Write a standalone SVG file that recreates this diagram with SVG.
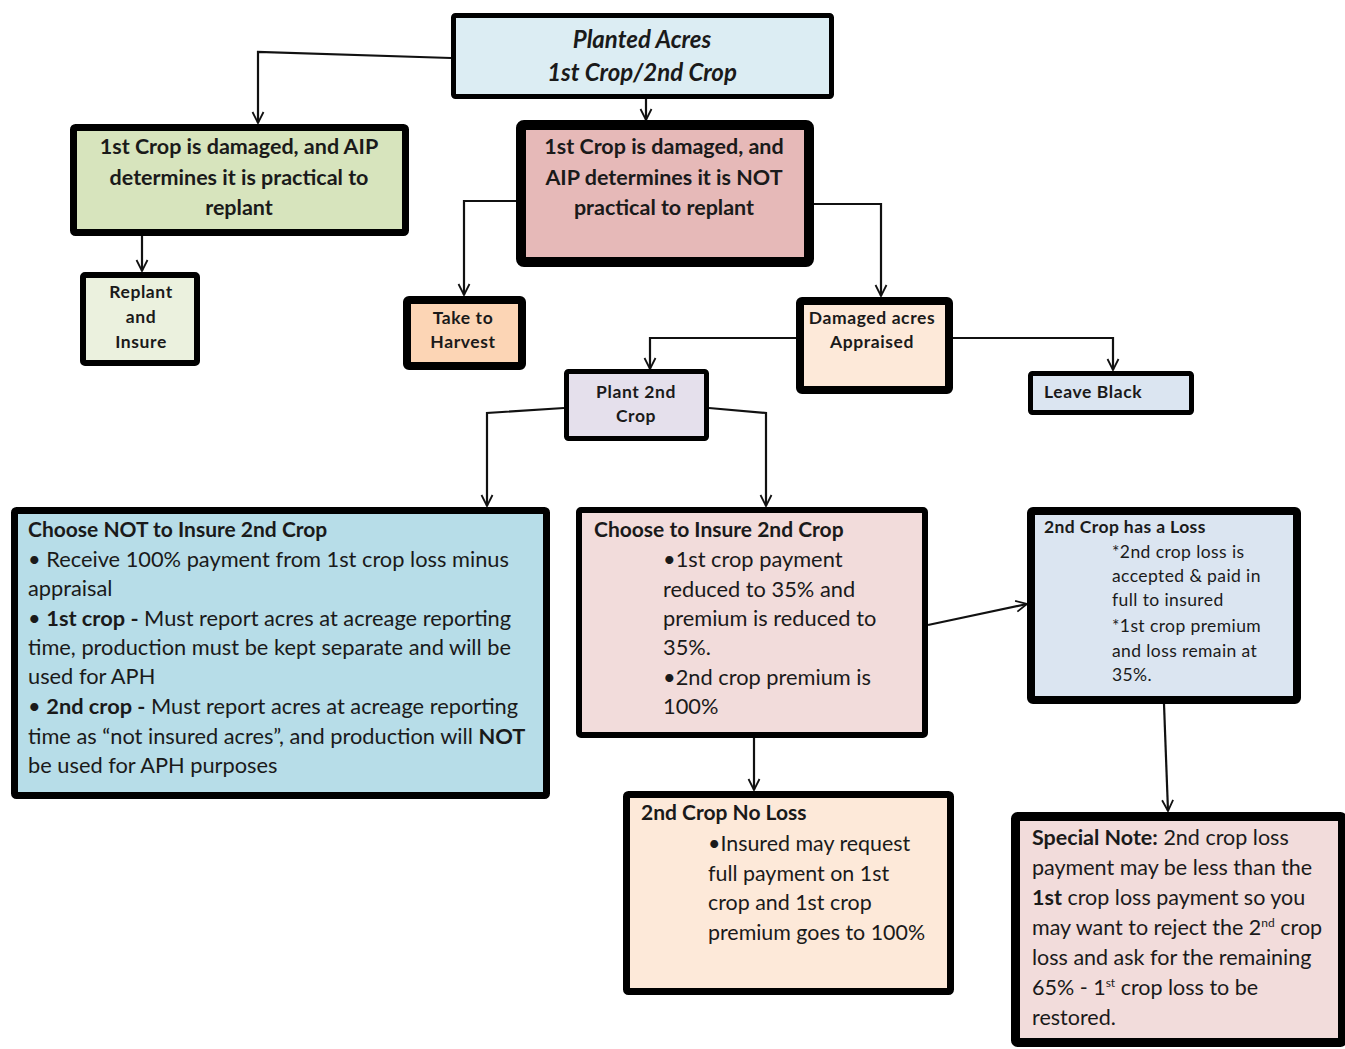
<svg xmlns="http://www.w3.org/2000/svg" width="1345" height="1049" viewBox="0 0 1345 1049">
<style>
.box{stroke:#000;stroke-linejoin:round}
.t{font-family:Lato,"Open Sans","Liberation Sans",sans-serif;fill:#1a1a1a}
.b{font-weight:700}
.c{text-anchor:middle}
.s{font-size:17.5px;letter-spacing:0.6px;font-weight:700}
.con{fill:none;stroke:#111;stroke-width:2.2;marker-end:url(#arr)}
</style>
<defs>
<marker id="arr" viewBox="0 0 14 14" refX="13" refY="7" markerWidth="14" markerHeight="14" markerUnits="userSpaceOnUse" orient="auto">
<path d="M2,1.5 L13,7 L2,12.5" fill="none" stroke="#111" stroke-width="1.8"/>
</marker>
</defs>
<rect width="1345" height="1049" fill="#fff"/>
<g id="connectors">
<path class="con" d="M451,58 L258,52 L258,123"/>
<path class="con" d="M646,99 L646,120"/>
<path class="con" d="M142,236 L142,271"/>
<path class="con" d="M516,201 L464,201 L464,295"/>
<path class="con" d="M814,204 L881,204 L881,296"/>
<path class="con" d="M796,338 L650,338 L650,369"/>
<path class="con" d="M953,338 L1113,338 L1113,370"/>
<path class="con" d="M564,408 L487,413 L487,506"/>
<path class="con" d="M709,408 L766,413 L766,506"/>
<path class="con" d="M928,625 L1027,604"/>
<path class="con" d="M754,738 L754,790"/>
<path class="con" d="M1164,704 L1168,811"/>
</g>
<g id="planted">
<rect class="box" x="453.5" y="15.5" width="378" height="81" rx="2" fill="#dcedf3" stroke-width="5"/>
<text class="t b c" x="642" y="48" font-size="24" font-style="italic">Planted Acres</text>
<text class="t b c" x="642" y="81" font-size="24" font-style="italic">1st Crop/2nd Crop</text>
</g>
<g id="practical">
<rect class="box" x="73.5" y="127.5" width="332" height="105" rx="2" fill="#d7e4bd" stroke-width="7"/>
<text class="t b c" x="239" y="154" font-size="21.5">1st Crop is damaged, and AIP</text>
<text class="t b c" x="239" y="185" font-size="21.5">determines it is practical to</text>
<text class="t b c" x="239" y="215" font-size="21.5">replant</text>
</g>
<g id="notpractical">
<rect class="box" x="521" y="125" width="288" height="137" rx="3" fill="#e6b9b8" stroke-width="10"/>
<text class="t b c" x="664" y="154" font-size="21.5">1st Crop is damaged, and</text>
<text class="t b c" x="664" y="185" font-size="21.5">AIP determines it is NOT</text>
<text class="t b c" x="664" y="215" font-size="21.5">practical to replant</text>
</g>
<g id="replant">
<rect class="box" x="83" y="275" width="114" height="88" rx="2" fill="#ebf1de" stroke-width="6"/>
<text class="t s c" x="141" y="298">Replant</text>
<text class="t s c" x="141" y="323">and</text>
<text class="t s c" x="141" y="348">Insure</text>
</g>
<g id="harvest">
<rect class="box" x="407" y="300" width="115" height="66" rx="2" fill="#fcd5b5" stroke-width="8"/>
<text class="t s c" x="463" y="324">Take to</text>
<text class="t s c" x="463" y="348">Harvest</text>
</g>
<g id="appraised">
<rect class="box" x="800" y="301" width="149" height="89" rx="2" fill="#fde9d9" stroke-width="8"/>
<text class="t s c" x="872" y="324" letter-spacing="0">Damaged acres</text>
<text class="t s c" x="872" y="348">Appraised</text>
</g>
<g id="leaveblack">
<rect class="box" x="1030.5" y="373.5" width="161" height="39" rx="2" fill="#dbe5f1" stroke-width="5"/>
<text class="t s" x="1044" y="398">Leave Black</text>
</g>
<g id="plant2nd">
<rect class="box" x="566.5" y="371.5" width="140" height="67" rx="2" fill="#e5e0ec" stroke-width="5"/>
<text class="t s c" x="636" y="398">Plant 2nd</text>
<text class="t s c" x="636" y="422">Crop</text>
</g>
<g id="notinsure">
<rect class="box" x="14.5" y="510.5" width="532" height="285" rx="2" fill="#b7dde8" stroke-width="7"/>
<g class="t" font-size="21.8">
<text class="b" x="28" y="537" font-size="21">Choose NOT to Insure 2nd Crop</text>
<text x="28" y="567">•  Receive 100% payment from 1st crop loss minus</text>
<text x="28" y="596">appraisal</text>
<text x="28" y="626">•  <tspan class="b">1st crop -</tspan>  Must report acres at acreage reporting</text>
<text x="28" y="655">time, production must be kept separate and will be</text>
<text x="28" y="684">used for APH</text>
<text x="28" y="714">•  <tspan class="b">2nd crop -</tspan>  Must report acres at acreage reporting</text>
<text x="28" y="744">time as “not insured acres”, and production will <tspan class="b">NOT</tspan></text>
<text x="28" y="773">be used for APH purposes</text>
</g>
</g>
<g id="insure">
<rect class="box" x="579" y="510" width="346" height="225" rx="2" fill="#f2dcdb" stroke-width="6"/>
<g class="t" font-size="21.8">
<text class="b" x="594" y="537" font-size="21">Choose to Insure 2nd Crop</text>
<text x="663" y="567">•1st crop payment</text>
<text x="663" y="597">reduced to 35% and</text>
<text x="663" y="626">premium is reduced to</text>
<text x="663" y="655">35%.</text>
<text x="663" y="685">•2nd crop premium is</text>
<text x="663" y="714">100%</text>
</g>
</g>
<g id="hasloss">
<rect class="box" x="1031" y="511" width="266" height="189" rx="2" fill="#dbe5f1" stroke-width="8"/>
<g class="t" font-size="17.5" letter-spacing="0.4">
<text class="b" x="1044" y="533">2nd Crop has a Loss</text>
<text x="1112" y="558">*2nd crop loss is</text>
<text x="1112" y="582">accepted &amp; paid in</text>
<text x="1112" y="606">full to insured</text>
<text x="1112" y="632">*1st crop premium</text>
<text x="1112" y="657">and loss remain at</text>
<text x="1112" y="681">35%.</text>
</g>
</g>
<g id="noloss">
<rect class="box" x="626.5" y="794.5" width="324" height="197" rx="2" fill="#fde9d9" stroke-width="7"/>
<g class="t" font-size="21.4">
<text class="b" x="641" y="820" font-size="21">2nd Crop No Loss</text>
<text x="708" y="851">•Insured may request</text>
<text x="708" y="881">full payment on 1st</text>
<text x="708" y="910">crop and 1st crop</text>
<text x="708" y="940">premium goes to 100%</text>
</g>
</g>
<g id="specialnote">
<rect class="box" x="1015.5" y="816.5" width="327" height="226" rx="2" fill="#f2dcdb" stroke-width="9"/>
<g class="t" font-size="21.5">
<text x="1032" y="845"><tspan class="b">Special Note:</tspan>  2nd crop loss</text>
<text x="1032" y="875">payment may be less than the</text>
<text x="1032" y="905"><tspan class="b">1st</tspan> crop loss payment so you</text>
<text x="1032" y="935">may want to reject the 2<tspan font-size="12" dy="-8">nd</tspan><tspan dy="8"> crop</tspan></text>
<text x="1032" y="965">loss and ask for the remaining</text>
<text x="1032" y="995">65% - 1<tspan font-size="12" dy="-8">st</tspan><tspan dy="8"> crop loss to be</tspan></text>
<text x="1032" y="1025">restored.</text>
</g>
</g>
</svg>
